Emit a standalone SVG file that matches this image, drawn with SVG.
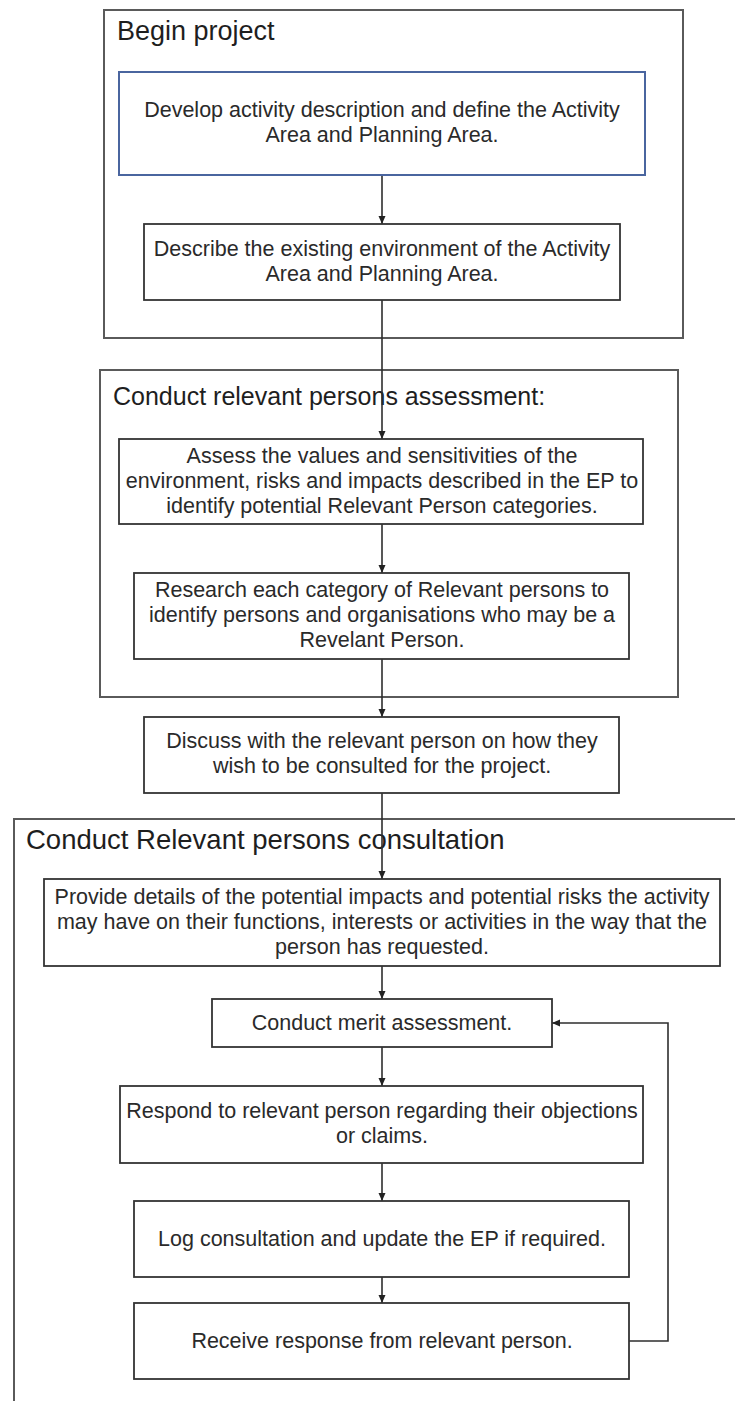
<svg xmlns="http://www.w3.org/2000/svg" width="735" height="1401" viewBox="0 0 735 1401">
<style>
.grp{fill:none;stroke:#5a5a5a;stroke-width:2}
.box{fill:#fff;stroke:#333;stroke-width:1.8}
.blue{fill:#fff;stroke:#4a659f;stroke-width:2}
.t{font-family:"Liberation Sans",Arial,sans-serif;font-size:21.5px;fill:#2a2a2a;text-anchor:middle}
.title{font-family:"Liberation Sans",Arial,sans-serif;fill:#1e1e1e}
.c{fill:none;stroke:#2e2e2e;stroke-width:1.6}
</style>
<defs>
<marker id="ah" markerUnits="userSpaceOnUse" markerWidth="9" markerHeight="9" refX="8" refY="4" orient="auto">
<path d="M0,0.5 L8,4 L0,7.5 z" fill="#222"/>
</marker>
</defs>
<rect width="735" height="1401" fill="#fff"/>

<g id="group-begin">
<rect class="grp" x="104" y="10" width="579" height="328"/>
<text class="title" x="117" y="40" font-size="27">Begin project</text>
</g>
<g id="group-assessment">
<rect class="grp" x="100" y="370" width="578" height="327"/>
<text class="title" x="113" y="405" font-size="25">Conduct relevant persons assessment:</text>
</g>
<g id="group-consultation">
<rect class="grp" x="14" y="819" width="800" height="700"/>
<text class="title" x="26" y="849" font-size="27.5">Conduct Relevant persons consultation</text>
</g>

<g id="connectors">
<line class="c" x1="382" y1="175" x2="382" y2="224" marker-end="url(#ah)"/>
<line class="c" x1="382" y1="300" x2="382" y2="439" marker-end="url(#ah)"/>
<line class="c" x1="382" y1="524" x2="382" y2="573" marker-end="url(#ah)"/>
<line class="c" x1="382" y1="659" x2="382" y2="717" marker-end="url(#ah)"/>
<line class="c" x1="382" y1="793" x2="382" y2="879" marker-end="url(#ah)"/>
<line class="c" x1="382" y1="966" x2="382" y2="999" marker-end="url(#ah)"/>
<line class="c" x1="382" y1="1047" x2="382" y2="1086" marker-end="url(#ah)"/>
<line class="c" x1="382" y1="1163" x2="382" y2="1201" marker-end="url(#ah)"/>
<line class="c" x1="382" y1="1277" x2="382" y2="1303" marker-end="url(#ah)"/>
<polyline class="c" points="629,1341 668,1341 668,1023 552,1023" marker-end="url(#ah)"/>
</g>

<g id="node-develop">
<rect class="blue" x="119" y="72" width="526" height="103"/>
<text class="t" x="382" y="117">Develop activity description and define the Activity</text>
<text class="t" x="382" y="142">Area and Planning Area.</text>
</g>
<g id="node-describe">
<rect class="box" x="144" y="224" width="476" height="76"/>
<text class="t" x="382" y="256">Describe the existing environment of the Activity</text>
<text class="t" x="382" y="281">Area and Planning Area.</text>
</g>
<g id="node-assess">
<rect class="box" x="119" y="439" width="524" height="85"/>
<text class="t" x="382" y="463">Assess the values and sensitivities of the</text>
<text class="t" x="382" y="488">environment, risks and impacts described in the EP to</text>
<text class="t" x="382" y="513">identify potential Relevant Person categories.</text>
</g>
<g id="node-research">
<rect class="box" x="134" y="573" width="495" height="86"/>
<text class="t" x="382" y="597">Research each category of Relevant persons to</text>
<text class="t" x="382" y="622">identify persons and organisations who may be a</text>
<text class="t" x="382" y="647">Revelant Person.</text>
</g>
<g id="node-discuss">
<rect class="box" x="144" y="717" width="475" height="76"/>
<text class="t" x="382" y="748">Discuss with the relevant person on how they</text>
<text class="t" x="382" y="773">wish to be consulted for the project.</text>
</g>
<g id="node-provide">
<rect class="box" x="44" y="879" width="676" height="87"/>
<text class="t" x="382" y="904">Provide details of the potential impacts and potential risks the activity</text>
<text class="t" x="382" y="929">may have on their functions, interests or activities in the way that the</text>
<text class="t" x="382" y="954">person has requested.</text>
</g>
<g id="node-merit">
<rect class="box" x="212" y="999" width="340" height="48"/>
<text class="t" x="382" y="1030">Conduct merit assessment.</text>
</g>
<g id="node-respond">
<rect class="box" x="120" y="1086" width="523" height="77"/>
<text class="t" x="382" y="1118">Respond to relevant person regarding their objections</text>
<text class="t" x="382" y="1143">or claims.</text>
</g>
<g id="node-log">
<rect class="box" x="134" y="1201" width="495" height="76"/>
<text class="t" x="382" y="1246">Log consultation and update the EP if required.</text>
</g>
<g id="node-receive">
<rect class="box" x="134" y="1303" width="495" height="76"/>
<text class="t" x="382" y="1348">Receive response from relevant person.</text>
</g>
</svg>
